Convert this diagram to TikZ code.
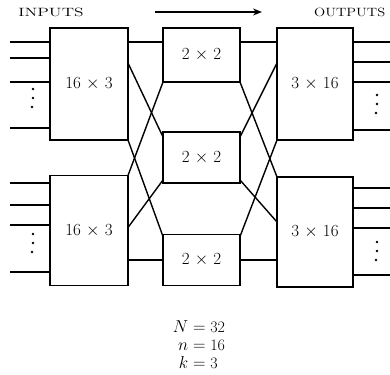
\documentclass[tikz,border=0pt]{standalone}
\usetikzlibrary{arrows.meta,calc}
\tikzset{
  sw/.style={draw=black, line width=1.4pt, inner sep=0pt, outer sep=0pt, font=\fontsize{17}{19}\selectfont},
  link/.style={draw=black, line width=1.4pt},
  hdr/.style={inner sep=0pt, font=\fontsize{12}{14}\selectfont},
  dotmark/.style={fill=black},
}
\begin{document}
\begin{tikzpicture}[x=1pt,y=-1pt]
\useasboundingbox (0,0) rectangle (390,374);
% headers
\node[hdr] (hin) at (51,12) {\scalebox{1.45}[1]{INPUTS}};
\node[hdr, anchor=west] (hout) at (314,12) {\scalebox{1.22}[1]{OUTPUTS}};
\coordinate (arrA) at (155,12);
\coordinate (arrB) at (262,12);
\draw[link, -{Stealth[length=9pt,width=7pt]}] (arrA) -- (arrB);
% switches
\node[sw, minimum width=78pt, minimum height=112pt] (I1) at (89,84) {16 $\times$ 3};
\node[sw, minimum width=78pt, minimum height=110pt] (I2) at (89,230.5) {16 $\times$ 3};
\node[sw, minimum width=77pt, minimum height=54pt] (M1) at (201.5,55) {2 $\times$ 2};
\node[sw, minimum width=77pt, minimum height=51pt] (M2) at (201.5,157.5) {2 $\times$ 2};
\node[sw, minimum width=77pt, minimum height=51pt] (M3) at (201.5,260) {2 $\times$ 2};
\node[sw, minimum width=76pt, minimum height=112pt] (O1) at (315,84) {3 $\times$ 16};
\node[sw, minimum width=76pt, minimum height=110pt] (O2) at (315,232) {3 $\times$ 16};
% input lines
\foreach \y [count=\i] in {42,58,82,128} {
  \coordinate (ia\i) at (10,\y);
  \draw[link] (ia\i) -- (ia\i -| I1.west);
}
\foreach \y [count=\i] in {183,205,225,272} {
  \coordinate (ib\i) at (10,\y);
  \draw[link] (ib\i) -- (ib\i -| I2.west);
}
% output lines
\foreach \y [count=\i] in {42,62,82,130} {
  \coordinate (oa\i) at (392,\y);
  \draw[link] (oa\i -| O1.east) -- (oa\i);
}
\foreach \y [count=\i] in {188,208,228,275} {
  \coordinate (ob\i) at (392,\y);
  \draw[link] (ob\i -| O2.east) -- (ob\i);
}
% dots
\foreach \x/\y in {33/89,33/98,32/107, 33/234,33/243,32/252, 377/95,377/104,376/113, 377/242,377/251,376/260}
  \fill[dotmark] (\x,\y) circle (1.4pt);
% input -> middle links
\coordinate (p11) at ($(I1.north east)+(0,14)$);
\draw[link] (p11) -- (p11 -| M1.west);
\draw[link] ($(I1.north east)+(0,35)$) -- ($(M2.north west)+(0,5)$);
\draw[link] (I1.south east) -- ($(M3.north west)+(0,2)$);
\draw[link] (I2.north east) -- (M1.south west);
\draw[link] ($(I2.north east)+(0,52)$) -- ($(M2.south west)+(0,-3)$);
\draw[link] (M3.west -| I2.east) -- (M3.west);
% middle -> output links
\draw[link] (p11 -| M1.east) -- (p11 -| O1.west);
\draw[link] ($(M2.north east)+(0,5)$) -- ($(O1.north west)+(0,35)$);
\draw[link] ($(M3.north east)+(0,2)$) -- (O1.south west);
\draw[link] (M1.south east) -- (O2.north west);
\draw[link] ($(M2.south east)+(0,-3)$) -- ($(O2.north west)+(0,45)$);
\draw[link] (M3.east) -- (M3.east -| O2.west);
% footnote
\node[inner sep=0pt, font=\fontsize{16}{18}\selectfont] (fn) at (199,347)
  {\begin{tabular}{@{}r@{${}={}$}l@{}}$N$&32\\$n$&16\\$k$&3\end{tabular}};
\end{tikzpicture}
\end{document}
